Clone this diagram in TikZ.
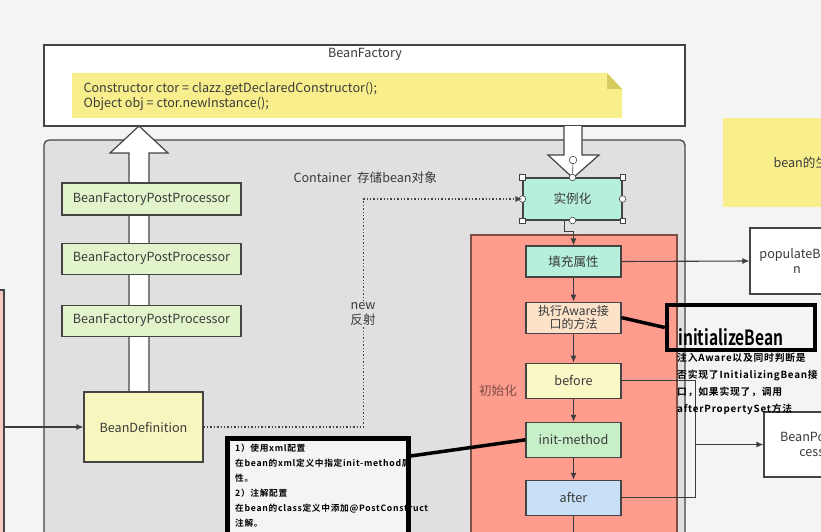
\documentclass[tikz,border=0pt]{standalone}
\usepackage{fontspec}
\setmainfont{Noto Sans CJK SC}
\newfontfamily\boldcjk{Noto Sans CJK SC Bold}[LetterSpace=8]
\newfontfamily\bigbold{Noto Sans CJK SC Bold}[FakeStretch=0.74]
\usetikzlibrary{arrows.meta,positioning,calc}

\definecolor{bgc}{HTML}{F4F4F4}
\definecolor{frame}{HTML}{444444}
\definecolor{txt}{HTML}{3A3A3A}
\definecolor{cont}{HTML}{E0E0E2}
\definecolor{notey}{HTML}{F8EF8C}
\definecolor{notefold}{HTML}{D6CB5E}
\definecolor{leftpink}{HTML}{F6C9C2}
\definecolor{greenbox}{HTML}{E2F4CB}
\definecolor{defbox}{HTML}{F7F6BF}
\definecolor{mint}{HTML}{B6F0DB}
\definecolor{salmon}{HTML}{FE9C8E}
\definecolor{redline}{HTML}{7C4E44}
\definecolor{peach}{HTML}{FBE2C9}
\definecolor{lightyel}{HTML}{FAF8C6}
\definecolor{initgreen}{HTML}{C7EFC8}
\definecolor{afterblue}{HTML}{C7DFF7}

\tikzset{
  box/.style={draw=frame, line width=1.1pt, text=txt, align=center,
    font=\fontsize{12.6}{14.5}\selectfont, inner sep=1pt},
  stepbox/.style={box, minimum width=95pt, minimum height=33pt},
  hollow/.style={draw=frame, line width=1.2pt, fill=white, line join=miter},
  arr/.style={draw=frame!90!black, line width=1.1pt, -{Latex[length=7pt,width=6pt]}},
  plain/.style={draw=frame!90!black, line width=1.1pt},
  callout/.style={draw=black, line width=4.5pt},
  handle/.style={draw=frame, fill=white, line width=0.6pt},
}

\begin{document}
\begin{tikzpicture}[x=1pt,y=-1pt]
    % 背景
    \fill[bgc] (0,0) rectangle (821,532);
    \useasboundingbox (0,0) rectangle (821,532);
    \clip (0,0) rectangle (821,532);

    % BeanFactory
    \node[draw=frame, line width=1.3pt, fill=white, minimum width=641pt, minimum height=81pt] (factory) at (364.5,85.5) {};
    \node[text=txt, font=\fontsize{12.6}{14}\selectfont] (factorytitle) at (365,54) {BeanFactory};
    \fill[notey] (72,73) -- (607,73) -- (622,89) -- (622,118) -- (72,118) -- cycle;
    \fill[notefold] (607,73) -- (622,89) -- (607,89) -- cycle;
    \node[anchor=west, align=left, text=txt, font=\fontsize{12.6}{15}\selectfont] (code) at (80,96.5)
        {Constructor ctor = clazz.getDeclaredConstructor();\\Object obj = ctor.newInstance();};

    % Container
    \draw[frame, line width=1.3pt, fill=cont, rounded corners=5pt] (44,140) rectangle (685,560);
    \node[anchor=west, text=txt, font=\fontsize{12.6}{14}\selectfont] (contlabel) at (290,178) {Container\ \ 存储bean对象};

    % 右のメモ
    \fill[notey] (723,118) rectangle (860,207);
    \node[anchor=west, text=txt, font=\fontsize{12.6}{14}\selectfont] (life) at (770,163) {bean的生命周期};

    % 左端の箱
    \node[draw=frame, fill=leftpink, line width=1.1pt, minimum width=40pt, minimum height=270pt] (leftbox) at (-16,425) {};

    % 白い太矢印
    \draw[hollow] (129,400) -- (129,153) -- (110,153) -- (139,126) -- (168,153) -- (149,153) -- (149,400) -- cycle;
    \draw[hollow] (564,126) -- (564,155) -- (548,155) -- (573,178) -- (599,155) -- (582,155) -- (582,126);

    % BeanFactoryPostProcessor
    \node[box, fill=greenbox, minimum width=179pt, minimum height=32pt] (bfpp1) at (151.5,199) {BeanFactoryPostProcessor};
    \node[box, fill=greenbox, minimum width=179pt, minimum height=31pt, below=27pt of bfpp1] (bfpp2) {BeanFactoryPostProcessor};
    \node[box, fill=greenbox, minimum width=179pt, minimum height=31pt, below=30pt of bfpp2] (bfpp3) {BeanFactoryPostProcessor};
    \node[box, fill=defbox, minimum width=119pt, minimum height=70pt] (bd) at (143.5,427) {BeanDefinition};

    % 初始化
    \draw[draw=redline, line width=1.3pt, fill=salmon] (471,235) rectangle (677,560);
    \node[text=redline, font=\fontsize{12.6}{14}\selectfont] (initlabel) at (498,391) {初始化};

    % 各ステップ
    \node[box, fill=mint, minimum width=99pt, minimum height=42pt] (inst) at (572.5,199) {实例化};
    \node[stepbox, fill=mint, minimum height=31pt] (fill) at (573.5,261.5) {填充属性};
    \node[stepbox, fill=peach, minimum height=31pt, below=24pt of fill, font=\fontsize{12}{13.5}\selectfont] (aware) {执行Aware接\\口的方法};
    \node[stepbox, fill=lightyel, minimum height=35pt, below=29pt of aware] (before) {before};
    \node[stepbox, fill=initgreen, minimum height=35pt, below=23pt of before] (init) {init-method};
    \node[stepbox, fill=afterblue, minimum height=35pt, below=22pt of init] (after) {after};
    \coordinate (afterdown) at (573.5,545);

    % 右側の箱
    \node[box, fill=white, minimum width=94pt, minimum height=66pt] (populate) at (797,261) {populateBea\\n};
    \node[box, fill=white, minimum width=108pt, minimum height=65pt] (bpp) at (818,444.5) {BeanPostPro\\cessor};

    % 実例化の選択ハンドル
    \draw[frame, line width=0.6pt] (inst.north) -- (573,160);
    \foreach \a in {north west,north east,south west,south east} {
        \draw[handle] ($(inst.\a)+(-2.7,-2.7)$) rectangle ($(inst.\a)+(2.7,2.7)$);
    }
    \foreach \a in {north,south,east,west} {
        \draw[handle] (inst.\a) circle (3.3pt);
    }
    \draw[handle] (573,160) circle (3.8pt);

    % 接続線
    \draw[arr] (leftbox.east |- bd.west) -- (bd.west);
    \draw[draw=frame, line width=1.4pt, dotted, -{Latex[length=7pt,width=6pt]}] (bd.east) -- ++(160,0) |- (inst.west);
    \node[fill=cont, text=txt, align=center, inner sep=1pt, font=\fontsize{12.6}{15}\selectfont] (newlbl) at (363,314) {new\\反射};
    \draw[arr] ([xshift=-8pt]inst.south) -- ++(0,11) -| (fill.north);
    \draw[arr] (fill) -- (aware);
    \draw[arr] (aware) -- (before);
    \draw[arr] (before) -- (init);
    \draw[arr] (init) -- (after);
    \draw[plain] (after) -- (afterdown);
    \draw[arr] (fill.east) -- (populate.west);
    \draw[plain] (before.east) -- ++(74,0) coordinate (bend) |- (after.east);
    \draw[arr] (bend |- bpp.west) -- (bpp.west);

    % initializeBean の注釈
    \node[callout, minimum width=148pt, minimum height=45pt] (initnote) at (741,327.5) {};
    \node[anchor=west, font=\bigbold\fontsize{21}{23}\selectfont] (initname) at (675,337) {initializeBean};
    \node[anchor=north west, align=left, inner sep=0pt, font=\boldcjk\fontsize{9.8}{17}\selectfont] (initdesc) at (677,353)
        {注入Aware以及同时判断是\\否实现了InitializingBean接\\口，如果实现了，调用\\afterPropertySet方法};
    \draw[black, line width=3.5pt] (aware.east) -- (initnote.west);

    % init-method の注釈
    \node[callout, fill=bgc, minimum width=181pt, minimum height=110pt, anchor=north west] (xmlnote) at (225,436) {};
    \node[anchor=north west, align=left, inner sep=0pt, font=\boldcjk\fontsize{8.7}{15}\selectfont] (xmldesc) at (235,444)
        {1）使用xml配置\\在bean的xml定义中指定init-method属\\性。\\2）注解配置\\在bean的class定义中添加@PostConstruct\\注解。};
    \draw[black, line width=3.5pt] ([yshift=-20pt]xmlnote.north east) -- (init.west);
\end{tikzpicture}
\end{document}
